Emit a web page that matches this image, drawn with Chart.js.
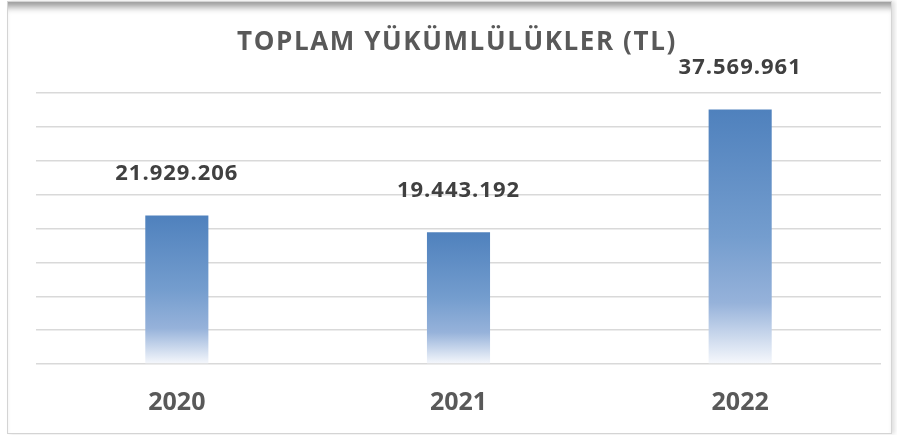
<!DOCTYPE html>
<html>
<head>
<meta charset="utf-8">
<script src="https://cdn.jsdelivr.net/npm/chart.js@4"></script>
<style>
  html, body { margin: 0; padding: 0; background: #fff; }
  #wrap { position: relative; width: 897px; height: 435px; }
  #frame {
    position: absolute; left: 7px; top: 1px; width: 883px; height: 431px;
    border: 1px solid #d4d4d4;
    box-shadow: inset 0 10px 7px -5px rgba(0,0,0,0.4), 3px 0 4px rgba(0,0,0,0.12);
  }
  canvas { position: absolute; left: 0; top: 0; }
</style>
</head>
<body>
<div id="wrap">
  <div id="frame"></div>
  <canvas id="chart" width="897" height="435"></canvas>
</div>
<script>
const titleText = 'TOPLAM YÜKÜMLÜLÜKLER (TL)';
const years = ['2020', '2021', '2022'];
const liabilities = [21929206, 19443192, 37569961];
const yMax = 40000000;
const yStep = 5000000;

const textColor = '#595959';
const labelColor = '#404040';

function fmt(n) {
  return String(n).replace(/\B(?=(\d{3})+(?!\d))/g, '.');
}

function barFill(context) {
  const chart = context.chart;
  if (context.type !== 'data' || !chart.chartArea) return '#4f81bd';
  const y = chart.scales.y;
  const top = y.getPixelForValue(context.parsed.y);
  const bottom = y.getPixelForValue(0);
  const g = chart.ctx.createLinearGradient(0, top, 0, bottom);
  g.addColorStop(0, 'rgb(79,129,189)');
  g.addColorStop(0.5, 'rgb(116,157,206)');
  g.addColorStop(0.76, 'rgb(150,178,218)');
  g.addColorStop(1, 'rgb(246,248,252)');
  return g;
}

// title with letter spacing + value labels above the bars
const textPlugin = {
  id: 'texts',
  afterDraw(chart) {
    const c = chart.ctx;
    c.save();
    c.textAlign = 'center';
    c.textBaseline = 'middle';
    c.letterSpacing = '1.6px';
    c.fillStyle = textColor;
    c.font = 'bold 26px "Open Sans"';
    c.fillText(titleText, 457, 43);

    c.letterSpacing = '1px';
    c.fillStyle = labelColor;
    c.font = 'bold 22px "Open Sans"';
    chart.getDatasetMeta(0).data.forEach((bar, i) => {
      c.fillText(fmt(liabilities[i]), bar.x, bar.y - 42);
    });
    c.restore();
  }
};

new Chart(document.getElementById('chart'), {
  type: 'bar',
  data: {
    labels: years,
    datasets: [{
      data: liabilities,
      backgroundColor: barFill,
      borderWidth: 0,
      categoryPercentage: 1,
      barPercentage: 0.224
    }]
  },
  options: {
    responsive: false,
    animation: false,
    layout: { padding: { left: 36, right: 16, top: 93, bottom: 0 } },
    plugins: {
      legend: { display: false },
      tooltip: { enabled: false }
    },
    scales: {
      x: {
        grid: { display: false, drawTicks: false },
        border: { display: false },
        ticks: {
          color: textColor,
          font: { family: 'Open Sans', size: 25, weight: 'bold' },
          padding: 24
        },
        afterFit(axis) { axis.height = 71; }
      },
      y: {
        min: 0,
        max: yMax,
        ticks: { display: false, stepSize: yStep },
        grid: { color: '#d9d9d9', lineWidth: 1.5, drawTicks: false },
        border: { display: false }
      }
    }
  },
  plugins: [textPlugin]
});
</script>
</body>
</html>
